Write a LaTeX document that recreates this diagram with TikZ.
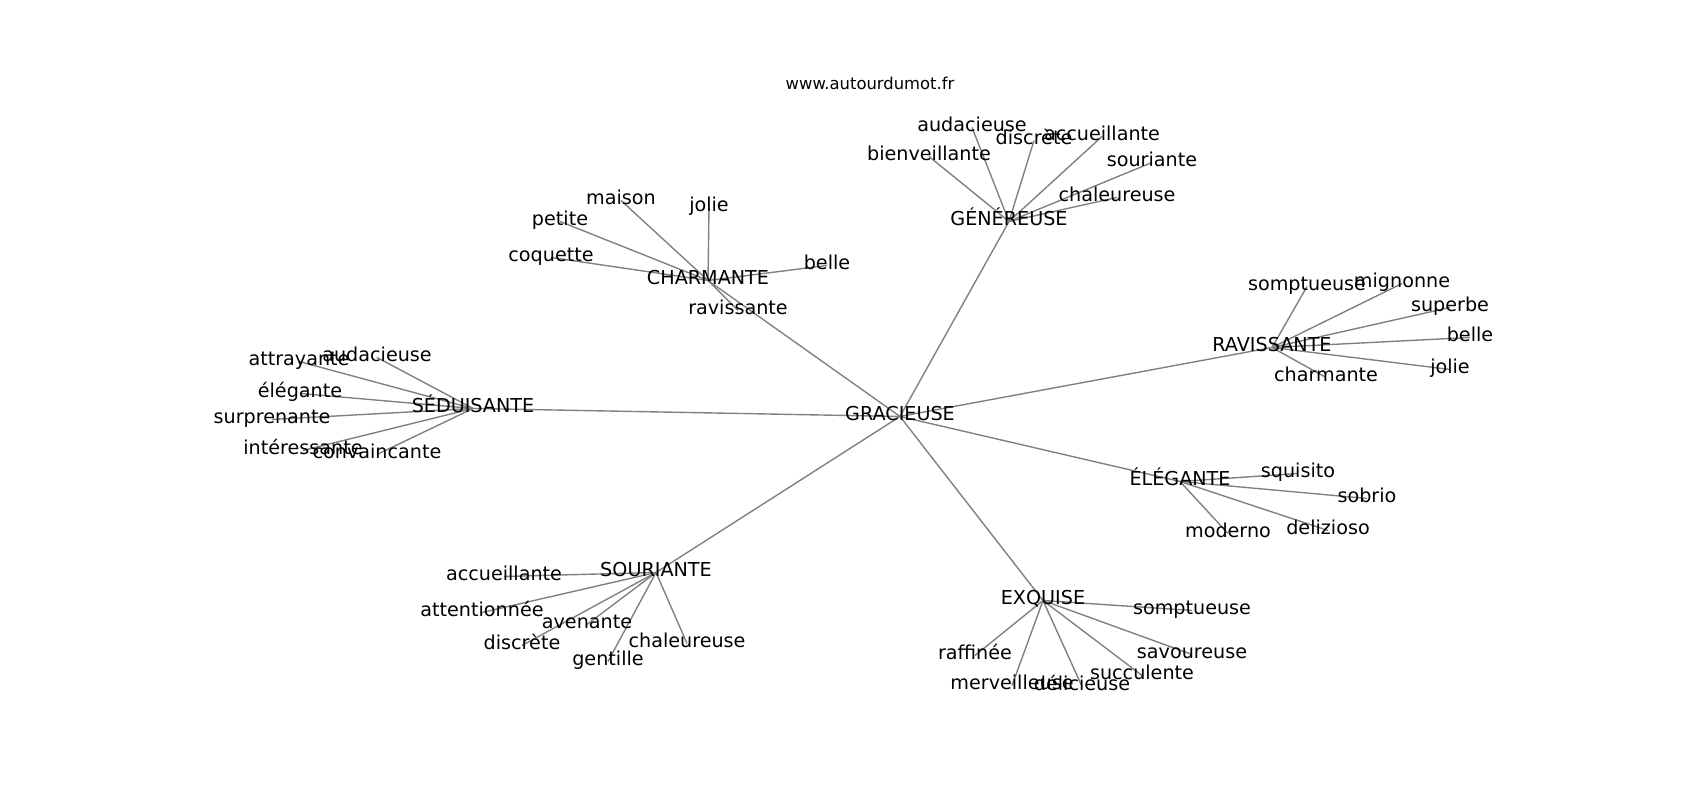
\documentclass[tikz,border=0pt]{standalone}
\usepackage{fontspec}
\setmainfont{DejaVu Sans}
\usetikzlibrary{backgrounds}
\begin{document}
\begin{tikzpicture}[x=0.72pt,y=-0.72pt]
        \tikzstyle{word}=[inner sep=0pt,text height=0.76em,text depth=0.21em,font=\fontsize{13.8pt}{16pt}\selectfont]
        \tikzstyle{link}=[draw, black!50, line width=1pt]
        \useasboundingbox (0,0) rectangle (1700,800);
        \node [inner sep=0pt,font=\fontsize{11.8pt}{14pt}\selectfont] (site) at (870,83) {www.autourdumot.fr};
       \begin{scope}[yshift=-2.5pt]
         \node [word] (grac) at (900,413) {GRACIEUSE};
         % GENEREUSE
         \node [word] (gen) at (1009,218) {GÉNÉREUSE};
         \node [word] (gen1) at (972,124) {audacieuse};
         \node [word] (gen2) at (1034,137) {discrète};
         \node [word] (gen3) at (1102,133) {accueillante};
         \node [word] (gen4) at (929,153) {bienveillante};
         \node [word] (gen5) at (1152,159) {souriante};
         \node [word] (gen6) at (1117,194) {chaleureuse};
         % CHARMANTE
         \node [word] (cha) at (708,277) {CHARMANTE};
         \node [word] (cha1) at (621,197) {maison};
         \node [word] (cha2) at (709,204) {jolie};
         \node [word] (cha3) at (560,218) {petite};
         \node [word] (cha4) at (551,254) {coquette};
         \node [word] (cha5) at (827,262) {belle};
         \node [word] (cha6) at (738,307) {ravissante};
         % SEDUISANTE
         \node [word] (sed) at (473,405) {SÉDUISANTE};
         \node [word] (sed1) at (299,358) {attrayante};
         \node [word] (sed2) at (377,354) {audacieuse};
         \node [word] (sed3) at (300,390) {élégante};
         \node [word] (sed4) at (272,416) {surprenante};
         \node [word] (sed5) at (303,447) {intéressante};
         \node [word] (sed6) at (377,451) {convaincante};
         % RAVISSANTE
         \node [word] (rav) at (1272,344) {RAVISSANTE};
         \node [word] (rav1) at (1307,283) {somptueuse};
         \node [word] (rav2) at (1402,280) {mignonne};
         \node [word] (rav3) at (1450,304) {superbe};
         \node [word] (rav4) at (1470,334) {belle};
         \node [word] (rav5) at (1450,366) {jolie};
         \node [word] (rav6) at (1326,374) {charmante};
         % ELEGANTE
         \node [word] (ele) at (1180,478) {ÉLÉGANTE};
         \node [word] (ele1) at (1298,470) {squisito};
         \node [word] (ele2) at (1367,495) {sobrio};
         \node [word] (ele3) at (1328,527) {delizioso};
         \node [word] (ele4) at (1228,530) {moderno};
         % SOURIANTE
         \node [word] (sou) at (656,569) {SOURIANTE};
         \node [word] (sou1) at (504,573) {accueillante};
         \node [word] (sou2) at (482,609) {attentionnée};
         \node [word] (sou3) at (587,621) {avenante};
         \node [word] (sou4) at (522,642) {discrète};
         \node [word] (sou5) at (608,658) {gentille};
         \node [word] (sou6) at (687,640) {chaleureuse};
         % EXQUISE
         \node [word] (exq) at (1043,597) {EXQUISE};
         \node [word] (exq1) at (1192,607) {somptueuse};
         \node [word] (exq2) at (975,652) {raffinée};
         \node [word] (exq3) at (1012,682) {merveilleuse};
         \node [word] (exq4) at (1082,683) {délicieuse};
         \node [word] (exq5) at (1142,672) {succulente};
         \node [word] (exq6) at (1192,651) {savoureuse};
        \end{scope}
        \begin{scope}[on background layer]
         \foreach \h in {gen,cha,sed,rav,ele,sou,exq}
           \path[link] (grac.center) -- (\h.center);
         \foreach \h/\n in {gen/6,cha/6,sed/6,rav/6,ele/4,sou/6,exq/6}
           \foreach \i in {1,...,\n}
             \path[link] (\h.center) -- (\h\i.center);
        \end{scope}
      \end{tikzpicture}
\end{document}
